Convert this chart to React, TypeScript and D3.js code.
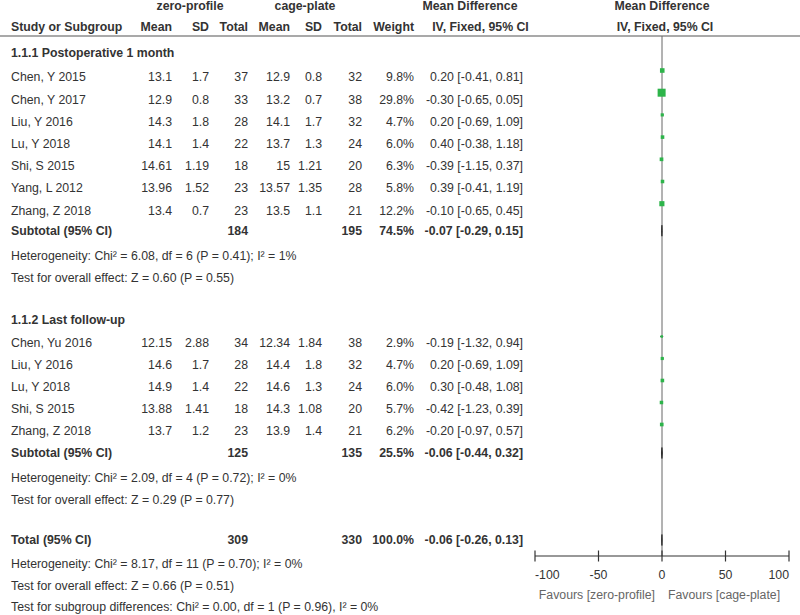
import React from "react";
import * as d3 from "d3";

// ---------- data ----------
const g1Title = "1.1.1 Postoperative 1 month";
const g1Studies = ["Chen, Y 2015", "Chen, Y 2017", "Liu, Y 2016", "Lu, Y 2018", "Shi, S 2015", "Yang, L 2012", "Zhang, Z 2018"];
const g1ZpMean = [13.1, 12.9, 14.3, 14.1, 14.61, 13.96, 13.4];
const g1ZpSD = [1.7, 0.8, 1.8, 1.4, 1.19, 1.52, 0.7];
const g1ZpN = [37, 33, 28, 22, 18, 23, 23];
const g1CpMean = [12.9, 13.2, 14.1, 13.7, 15, 13.57, 13.5];
const g1CpSD = [0.8, 0.7, 1.7, 1.3, 1.21, 1.35, 1.1];
const g1CpN = [32, 38, 32, 24, 20, 28, 21];
const g1Weight = [9.8, 29.8, 4.7, 6.0, 6.3, 5.8, 12.2];
const g1MD = [0.2, -0.3, 0.2, 0.4, -0.39, 0.39, -0.1];
const g1Lo = [-0.41, -0.65, -0.69, -0.38, -1.15, -0.41, -0.65];
const g1Hi = [0.81, 0.05, 1.09, 1.18, 0.37, 1.19, 0.45];
const g1Sub = { zpN: 184, cpN: 195, weight: 74.5, md: -0.07, lo: -0.29, hi: 0.15 };
const g1Het = "Heterogeneity: Chi² = 6.08, df = 6 (P = 0.41); I² = 1%";
const g1Test = "Test for overall effect: Z = 0.60 (P = 0.55)";

const g2Title = "1.1.2 Last follow-up";
const g2Studies = ["Chen, Yu 2016", "Liu, Y 2016", "Lu, Y 2018", "Shi, S 2015", "Zhang, Z 2018"];
const g2ZpMean = [12.15, 14.6, 14.9, 13.88, 13.7];
const g2ZpSD = [2.88, 1.7, 1.4, 1.41, 1.2];
const g2ZpN = [34, 28, 22, 18, 23];
const g2CpMean = [12.34, 14.4, 14.6, 14.3, 13.9];
const g2CpSD = [1.84, 1.8, 1.3, 1.08, 1.4];
const g2CpN = [38, 32, 24, 20, 21];
const g2Weight = [2.9, 4.7, 6.0, 5.7, 6.2];
const g2MD = [-0.19, 0.2, 0.3, -0.42, -0.2];
const g2Lo = [-1.32, -0.69, -0.48, -1.23, -0.97];
const g2Hi = [0.94, 1.09, 1.08, 0.39, 0.57];
const g2Sub = { zpN: 125, cpN: 135, weight: 25.5, md: -0.06, lo: -0.44, hi: 0.32 };
const g2Het = "Heterogeneity: Chi² = 2.09, df = 4 (P = 0.72); I² = 0%";
const g2Test = "Test for overall effect: Z = 0.29 (P = 0.77)";

const total = { zpN: 309, cpN: 330, weight: 100.0, md: -0.06, lo: -0.26, hi: 0.13 };
const totHet = "Heterogeneity: Chi² = 8.17, df = 11 (P = 0.70); I² = 0%";
const totTest = "Test for overall effect: Z = 0.66 (P = 0.51)";
const subgroupTest = "Test for subgroup differences: Chi² = 0.00, df = 1 (P = 0.96), I² = 0%";

const axisTicks = [-100, -50, 0, 50, 100];
const favLeft = "Favours [zero-profile]";
const favRight = "Favours [cage-plate]";

// ---------- layout ----------
const W = 800, H = 615;
const FONT = "'Liberation Sans', Arial, sans-serif";
const FS = 12.3;
const TXT = "#333";
const x = d3.scaleLinear().domain([-100, 100]).range([535, 789]);
const axisY = 556;
const col = { label: 11, zpMean: 172, zpSD: 209, zpN: 248, cpMean: 290, cpSD: 322, cpN: 362, weight: 414, ci: 523 };
const sqScale = d3.scaleSqrt().domain([0, 29.8]).range([0, 8]);

const fmtCI = (m: number, l: number, h: number) => `${m.toFixed(2)} [${l.toFixed(2)}, ${h.toFixed(2)}]`;

function T(props: any) {
  const { x: tx, y, anchor = "start", bold = false, fill = TXT, children } = props;
  return (
    <text x={tx} y={y} dy="0.35em" textAnchor={anchor} fontWeight={bold ? "bold" : "normal"} fill={fill} fontFamily={FONT} fontSize={FS}>
      {children}
    </text>
  );
}

function StudyRow(p: any) {
  const { y, name, zm, zs, zn, cm, cs, cn, w, md, lo, hi } = p;
  const s = sqScale(w);
  const sy = y - 6.5;
  return (
    <g>
      <T x={col.label} y={y}>{name}</T>
      <T x={col.zpMean} y={y} anchor="end">{String(zm)}</T>
      <T x={col.zpSD} y={y} anchor="end">{String(zs)}</T>
      <T x={col.zpN} y={y} anchor="end">{String(zn)}</T>
      <T x={col.cpMean} y={y} anchor="end">{String(cm)}</T>
      <T x={col.cpSD} y={y} anchor="end">{String(cs)}</T>
      <T x={col.cpN} y={y} anchor="end">{String(cn)}</T>
      <T x={col.weight} y={y} anchor="end">{w.toFixed(1) + "%"}</T>
      <T x={col.ci} y={y} anchor="end">{fmtCI(md, lo, hi)}</T>
      <line x1={x(lo)} x2={x(hi)} y1={sy} y2={sy} stroke="#222" strokeWidth={1} />
      <rect x={x(md) - s / 2} y={sy - s / 2} width={s} height={s} fill="#2db44a" />
    </g>
  );
}

function SummaryRow(p: any) {
  const { y, label, d } = p;
  const path = `M${x(d.lo)},${y} L${x(d.md)},${y - 5.5} L${x(d.hi)},${y} L${x(d.md)},${y + 5.5} Z`;
  return (
    <g>
      <T x={col.label} y={y} bold>{label}</T>
      <T x={col.zpN} y={y} anchor="end" bold>{String(d.zpN)}</T>
      <T x={col.cpN} y={y} anchor="end" bold>{String(d.cpN)}</T>
      <T x={col.weight} y={y} anchor="end" bold>{d.weight.toFixed(1) + "%"}</T>
      <T x={col.ci} y={y} anchor="end" bold>{fmtCI(d.md, d.lo, d.hi)}</T>
      <path d={path} fill="#222" stroke="#222" strokeWidth={0.8} />
    </g>
  );
}

function Group(p: any) {
  const { titleY, firstY, step, subGap, title, studies, zm, zs, zn, cm, cs, cn, w, md, lo, hi, sub, het, test } = p;
  const lastY = firstY + step * (studies.length - 1);
  const subY = lastY + subGap;
  return (
    <g>
      <T x={col.label} y={titleY} bold>{title}</T>
      {studies.map((name: string, i: number) => (
        <StudyRow key={i} y={firstY + step * i} name={name} zm={zm[i]} zs={zs[i]} zn={zn[i]} cm={cm[i]} cs={cs[i]} cn={cn[i]} w={w[i]} md={md[i]} lo={lo[i]} hi={hi[i]} />
      ))}
      <SummaryRow y={subY} label="Subtotal (95% CI)" d={sub} />
      <T x={col.label} y={subY + 25}>{het}</T>
      <T x={col.label} y={subY + 47}>{test}</T>
    </g>
  );
}

export default function App() {
  const totY = 540;
  return (
    <svg width={W} height={H} style={{ position: "absolute", left: 0, top: 0, background: "#fff" }}>
      <rect width={W} height={H} fill="#fff" />
      {/* headers */}
      <T x={190} y={6} anchor="middle" bold>zero-profile</T>
      <T x={305} y={6} anchor="middle" bold>cage-plate</T>
      <T x={470} y={6} anchor="middle" bold>Mean Difference</T>
      <T x={662} y={6} anchor="middle" bold>Mean Difference</T>
      <T x={col.label} y={27} bold>Study or Subgroup</T>
      <T x={col.zpMean} y={27} anchor="end" bold>Mean</T>
      <T x={col.zpSD} y={27} anchor="end" bold>SD</T>
      <T x={col.zpN} y={27} anchor="end" bold>Total</T>
      <T x={col.cpMean} y={27} anchor="end" bold>Mean</T>
      <T x={col.cpSD} y={27} anchor="end" bold>SD</T>
      <T x={col.cpN} y={27} anchor="end" bold>Total</T>
      <T x={col.weight} y={27} anchor="end" bold>Weight</T>
      <T x={480.5} y={27} anchor="middle" bold>IV, Fixed, 95% CI</T>
      <T x={665} y={27} anchor="middle" bold>IV, Fixed, 95% CI</T>
      <line x1={0} x2={W} y1={36} y2={36} stroke="#555" strokeWidth={1.2} />

      {/* zero line */}
      <line x1={x(0)} x2={x(0)} y1={36} y2={axisY} stroke="#666" strokeWidth={1} />

      <Group titleY={53} firstY={77} step={22.2} subGap={20.5} title={g1Title} studies={g1Studies}
        zm={g1ZpMean} zs={g1ZpSD} zn={g1ZpN} cm={g1CpMean} cs={g1CpSD} cn={g1CpN} w={g1Weight} md={g1MD} lo={g1Lo} hi={g1Hi}
        sub={g1Sub} het={g1Het} test={g1Test} />
      <Group titleY={320} firstY={343} step={22} subGap={22} title={g2Title} studies={g2Studies}
        zm={g2ZpMean} zs={g2ZpSD} zn={g2ZpN} cm={g2CpMean} cs={g2CpSD} cn={g2CpN} w={g2Weight} md={g2MD} lo={g2Lo} hi={g2Hi}
        sub={g2Sub} het={g2Het} test={g2Test} />

      <SummaryRow y={totY} label="Total (95% CI)" d={total} />
      <T x={col.label} y={totY + 24}>{totHet}</T>
      <T x={col.label} y={totY + 46}>{totTest}</T>
      <T x={col.label} y={totY + 67}>{subgroupTest}</T>

      {/* axis */}
      <line x1={x(-100)} x2={x(100)} y1={axisY} y2={axisY} stroke="#333" strokeWidth={1.2} />
      {axisTicks.map((t, i) => (
        <g key={t}>
          <line x1={x(t)} x2={x(t)} y1={axisY - 5.5} y2={axisY + 5.5} stroke="#333" strokeWidth={1.2} />
          <T x={x(t)} y={575} anchor={i === 0 ? "start" : i === axisTicks.length - 1 ? "end" : "middle"}>{String(t)}</T>
        </g>
      ))}
      <T x={x(0) - 7} y={595} anchor="end" fill="#666">{favLeft}</T>
      <T x={x(0) + 6} y={595} anchor="start" fill="#666">{favRight}</T>
    </svg>
  );
}
